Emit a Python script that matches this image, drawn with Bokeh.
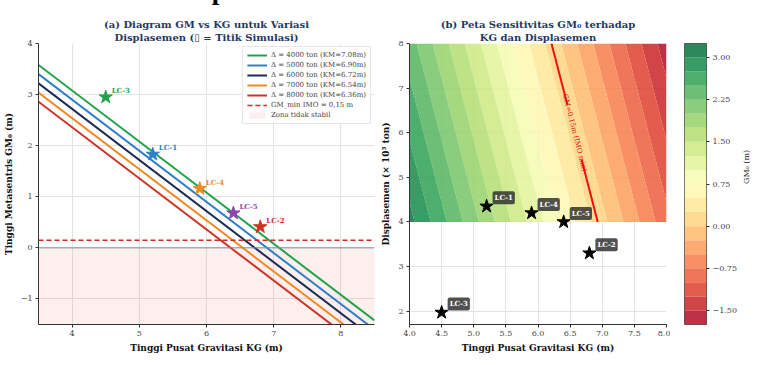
import math
import numpy as np
from bokeh.plotting import figure
from bokeh.models import (Range1d, FixedTicker, Legend, LegendItem, Span, Title, Div)
from bokeh.layouts import row, column
from bokeh.core.properties import value
from bokeh.embed import file_html
from bokeh.resources import INLINE

# ---------------- data ----------------
displacements = [4000, 5000, 6000, 7000, 8000]           # ton
disp_k = [4.0, 5.0, 6.0, 7.0, 8.0]                       # x 10^3 ton
km_values = [7.08, 6.90, 6.72, 6.54, 6.36]               # m
line_colors = ["#22a34a", "#2f7fc8", "#1b2a55", "#f08a24", "#cc3322"]

kg_line = [3.5, 8.5]
gm_line_start = [3.58, 3.40, 3.22, 3.04, 2.86]
gm_line_end = [-1.42, -1.60, -1.78, -1.96, -2.14]
gm_min = 0.15

lc_names = ["LC-1", "LC-2", "LC-3", "LC-4", "LC-5"]
lc_kg = [5.2, 6.8, 4.5, 5.9, 6.4]
lc_gm = [1.83, 0.41, 2.95, 1.16, 0.68]
lc_disp = [4.35, 3.3, 1.97, 4.2, 4.0]
lc_colors = ["#2f7fc8", "#cc3322", "#22a34a", "#f08a24", "#8e44ad"]

kg_grid = [4.0, 8.0]
cbar_ticks = [3.00, 2.25, 1.50, 0.75, 0.00, -0.75, -1.50]
levels = [round(-1.75 + 0.25 * i, 2) for i in range(21)]

x_ticks_a = [4, 5, 6, 7, 8]
y_ticks_a = [-1, 0, 1, 2, 3, 4]
x_ticks_b = [4.0, 4.5, 5.0, 5.5, 6.0, 6.5, 7.0, 7.5, 8.0]
y_ticks_b = [2, 3, 4, 5, 6, 7, 8]

title_a = ["(a) Diagram GM vs KG untuk Variasi", "Displasemen (\u25AF = Titik Simulasi)"]
title_b = ["(b) Peta Sensitivitas GM\u2080 terhadap", "KG dan Displasemen"]

# ---------------- styling helpers ----------------
SERIF = "DejaVu Serif"
TITLE_COLOR = "#1f3864"
FILL_ALPHA = 0.85

brewer = ['#a50026', '#d73027', '#f46d43', '#fdae61', '#fee08b', '#ffffbf',
          '#d9ef8b', '#a6d96a', '#66bd63', '#1a9850', '#006837']


def cmap(t):
    pos = t * (len(brewer) - 1)
    i = min(int(pos), len(brewer) - 2)
    f = pos - i
    c1 = [int(brewer[i][k:k + 2], 16) for k in (1, 3, 5)]
    c2 = [int(brewer[i + 1][k:k + 2], 16) for k in (1, 3, 5)]
    c = [round(a + (b - a) * f) for a, b in zip(c1, c2)]
    return "#%02x%02x%02x" % tuple(c)


n_bands = len(levels) - 1
palette = [cmap((i + 0.5) / n_bands) for i in range(n_bands)]


def minus(v, fmt):
    return (fmt % v).replace("-", "\u2212")


def style_axes(p):
    for ax in list(p.xaxis) + list(p.yaxis):
        ax.axis_line_color = "#333333"
        ax.major_tick_line_color = "#333333"
        ax.major_tick_in = 0
        ax.major_tick_out = 3
        ax.minor_tick_line_color = None
        ax.major_label_text_font = SERIF
        ax.major_label_text_font_size = "8px"
        ax.major_label_text_color = "#444444"
        ax.major_label_standoff = 3
        ax.axis_label_text_font = SERIF
        ax.axis_label_text_font_size = "9px"
        ax.axis_label_text_font_style = "bold"
        ax.axis_label_text_color = "#111111"
        ax.axis_label_standoff = 4
    p.grid.grid_line_color = "#e3e3e3"
    p.grid.grid_line_width = 1
    p.outline_line_color = None


def add_titles(p, lines):
    # figure title (first line) is outermost; second line sits next to the frame
    p.title.align = "center"
    p.title.text_font = SERIF
    p.title.text_font_size = "10px"
    p.title.text_font_style = "bold"
    p.title.text_color = TITLE_COLOR
    p.title.standoff = 0
    p.title.text_line_height = 1.0
    t = Title(text=lines[1], align="center", text_font=SERIF, text_font_size="10px",
              text_font_style="bold", text_color=TITLE_COLOR, standoff=1, text_line_height=1.0)
    p.add_layout(t, "above")


H = 339
TOP = 22
BOTTOM = 30

# ---------------- panel (a) ----------------
pa = figure(width=378, height=H, output_backend="svg", toolbar_location=None,
            x_range=Range1d(kg_line[0], kg_line[1]), y_range=Range1d(-1.5, 4.0),
            min_border_left=33, min_border_right=4, min_border_top=TOP, min_border_bottom=BOTTOM,
            title=title_a[0])
add_titles(pa, title_a)

zone = pa.quad(left=kg_line[0], right=kg_line[1], bottom=-1.5, top=0,
               fill_color="#e74c3c", fill_alpha=0.09, line_color=None)
pa.add_layout(Span(location=0, dimension="width", line_color="#7f8ea3", line_width=1))

items = []
for d, km, c, g0, g1 in zip(displacements, km_values, line_colors, gm_line_start, gm_line_end):
    r = pa.line(kg_line, [g0, g1], line_color=c, line_width=2)
    items.append(LegendItem(label=f"\u0394 = {d} ton (KM={km:.2f}m)", renderers=[r]))
rmin = pa.line(kg_line, [gm_min, gm_min], line_color="#d62728", line_width=1.5, line_dash="5 3")
items.append(LegendItem(label="GM_min IMO = 0,15 m", renderers=[rmin]))
items.append(LegendItem(label="Zona tidak stabil", renderers=[zone]))

pa.scatter(lc_kg, lc_gm, marker="star", size=14, fill_color=lc_colors, line_color=lc_colors)
pa.text(lc_kg, lc_gm, text=lc_names, text_color=lc_colors, x_offset=6, y_offset=-2,
        text_font=value(SERIF), text_font_style="bold", text_font_size="7px",
        text_baseline="bottom", text_align="left")

leg = Legend(items=items, location="top_right", label_text_font=SERIF,
             label_text_font_size="7px", label_height=8, glyph_height=8, glyph_width=20,
             spacing=2, padding=4, margin=3, label_standoff=4,
             border_line_color="#cccccc", background_fill_alpha=0.9)
pa.add_layout(leg)

pa.xaxis.ticker = FixedTicker(ticks=x_ticks_a)
pa.yaxis.ticker = FixedTicker(ticks=y_ticks_a)
pa.yaxis.major_label_overrides = {t: minus(t, "%d") for t in y_ticks_a}
pa.xaxis.axis_label = "Tinggi Pusat Gravitasi KG (m)"
pa.yaxis.axis_label = "Tinggi Metasentris GM\u2080 (m)"
style_axes(pa)

# ---------------- panel (b) ----------------
pb = figure(width=292, height=H, output_backend="svg", toolbar_location=None,
            x_range=Range1d(4.0, 8.0), y_range=Range1d(1.7, 8.0),
            min_border_left=30, min_border_right=4, min_border_top=TOP, min_border_bottom=BOTTOM,
            title=title_b[0])
add_titles(pb, title_b)

z = np.subtract.outer(np.array(km_values), np.array(kg_grid))
pb.contour(x=kg_grid, y=disp_k, z=z, levels=levels, fill_color=palette, fill_alpha=FILL_ALPHA,
           line_color=None)

# GM = 0.15 m contour line with inline label gap
seg_top = [8.0, 6.62]
seg_bot = [5.40, 4.0]
for seg in (seg_top, seg_bot):
    kg_seg = list(np.interp(seg, disp_k, km_values) - gm_min)
    pb.line(kg_seg, seg, line_color="#ee1111", line_width=2)
lab_d = 6.0
lab_kg = float(np.interp(lab_d, disp_k, km_values) - gm_min)
pb.text([lab_kg], [lab_d], text=["GM=0.15m (IMO min)"], angle=-1.32, text_color="#dd1111",
        text_font=value(SERIF), text_font_size="7px", text_align="center", text_baseline="middle")

pb.scatter(lc_kg, lc_disp, marker="star", size=14, fill_color="black", line_color="black")
pb.text(lc_kg, lc_disp, text=lc_names, text_color="white", x_offset=6, y_offset=-2,
        text_font=value(SERIF), text_font_style="bold", text_font_size="7px",
        text_baseline="bottom", text_align="left",
        background_fill_color="#333333", background_fill_alpha=0.85,
        padding=2, border_radius=2)

pb.xaxis.ticker = FixedTicker(ticks=x_ticks_b)
pb.xaxis.major_label_overrides = {t: "%.1f" % t for t in x_ticks_b}
pb.yaxis.ticker = FixedTicker(ticks=y_ticks_b)
pb.xaxis.axis_label = "Tinggi Pusat Gravitasi KG (m)"
pb.yaxis.axis_label = "Displasemen (\u00d7 10\u00b3 ton)"
style_axes(pb)

# ---------------- colour bar ----------------
pc = figure(frame_width=22, height=H, output_backend="svg", toolbar_location=None,
            x_range=Range1d(0, 1), y_range=Range1d(levels[0], levels[-1]),
            y_axis_location="right", x_axis_location=None,
            min_border_left=14, min_border_right=2, min_border_top=TOP, min_border_bottom=BOTTOM)
pc.quad(left=0, right=1, bottom=levels[:-1], top=levels[1:], fill_color=palette,
        fill_alpha=FILL_ALPHA, line_color=None)
pc.yaxis.ticker = FixedTicker(ticks=cbar_ticks)
pc.yaxis.major_label_overrides = {t: minus(t, "%.2f") for t in cbar_ticks}
pc.yaxis.axis_label = "GM\u2080 (m)"
style_axes(pc)
pc.yaxis.axis_line_color = None
pc.yaxis.axis_label_text_font_style = "normal"
pc.yaxis.axis_label_text_font_size = "8px"
pc.yaxis.axis_label_orientation = math.pi / 2
pc.yaxis.axis_label_standoff = 6
pc.grid.grid_line_color = None
pc.outline_line_color = "#333333"
pc.outline_line_width = 0.8

top_text = "variasi KG dan displasemen secara simultan."
div = Div(text=('<div style="font-family:\'Liberation Serif\';font-weight:bold;font-size:27px;'
                'line-height:27px;position:relative;top:-28px;left:-10px;white-space:nowrap;color:#000">'
                + top_text + '</div>'),
          width=748, height=6)

layout = column(div, row(pa, pb, pc))
open("out.html", "w").write(file_html(layout, INLINE))
